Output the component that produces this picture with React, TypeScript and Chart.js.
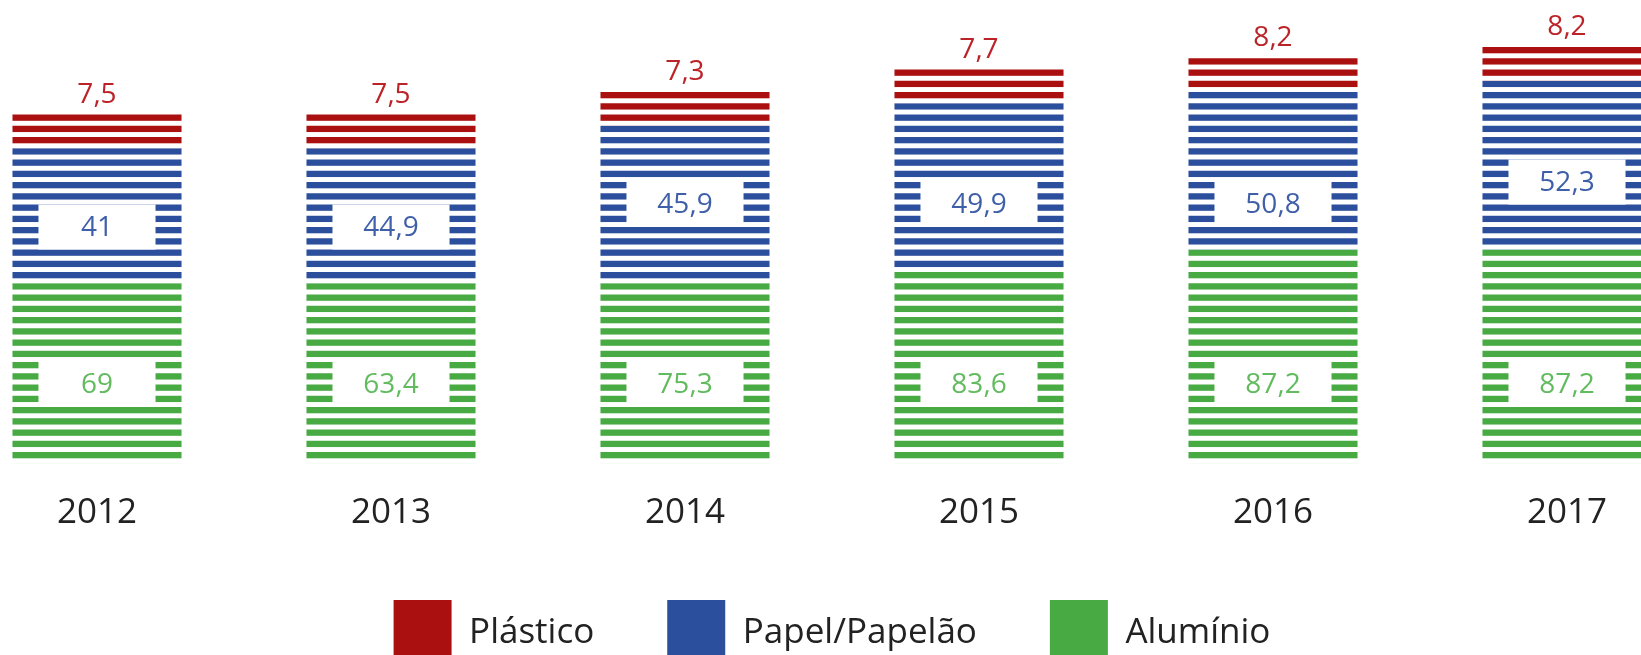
import React, { useEffect, useRef } from "react";
import { Chart, registerables } from "chart.js";

Chart.register(...registerables);

// Categories
const years = ["2012", "2013", "2014", "2015", "2016", "2017"];

// Printed values (labels)
const aluminioValues = [69, 63.4, 75.3, 83.6, 87.2, 87.2];
const papelValues = [41, 44.9, 45.9, 49.9, 50.8, 52.3];
const plasticoValues = [7.5, 7.5, 7.3, 7.7, 8.2, 8.2];

// Drawn bar heights, in stripes
const aluminioStripes = [16, 16, 16, 17, 19, 19];
const papelStripes = [12, 12, 14, 15, 14, 15];
const plasticoStripes = [3, 3, 3, 3, 3, 3];

// Stripes below each label box (picture reading)
const aluminioLabelRow = [5, 5, 5, 5, 5, 5];
const papelLabelRow = [3, 3, 5, 4, 2, 4];

const seriesNames = ["Alumínio", "Papel/Papelão", "Plástico"];
const seriesColors = ["#48aa43", "#2b4f9c", "#ab1010"];
const labelColors = ["#62bb5f", "#3f5fa9", "#bc2328"];

const FONT = "'Open Sans', sans-serif";
const STRIPE_FRACTION = 0.56;
const BOX_INSET = 26;
const BOX_ROWS = 4;
const X_AXIS_HEIGHT = 63.75;

const fmt = (v: number) => String(v).replace(".", ",");

const stripePlugin = {
  id: "stripes",
  afterDatasetsDraw(chart: any) {
    const ctx = chart.ctx;
    const ys = chart.scales.y;
    const unit = ys.getPixelForValue(0) - ys.getPixelForValue(1);
    ctx.save();
    // stripes: white gaps in each cell
    ctx.fillStyle = "#ffffff";
    chart.data.datasets.forEach((_ds: any, di: number) => {
      const meta = chart.getDatasetMeta(di);
      meta.data.forEach((bar: any) => {
        const { x, y, base, width } = bar.getProps(["x", "y", "base", "width"], true);
        const left = x - width / 2;
        const n = Math.round((base - y) / unit);
        for (let k = 0; k < n; k++) {
          const cellTop = y + k * unit;
          const gTop = cellTop + STRIPE_FRACTION * unit;
          ctx.fillRect(left - 1, gTop, width + 2, cellTop + unit - gTop);
        }
      });
    });
    // label boxes and labels
    const rows = [aluminioLabelRow, papelLabelRow];
    const vals = [aluminioValues, papelValues, plasticoValues];
    ctx.font = `28px ${FONT}`;
    ctx.textAlign = "center";
    chart.data.datasets.forEach((_ds: any, di: number) => {
      const meta = chart.getDatasetMeta(di);
      meta.data.forEach((bar: any, i: number) => {
        const { x, y, base, width } = bar.getProps(["x", "y", "base", "width"], true);
        const left = x - width / 2;
        const text = fmt(vals[di][i]);
        if (di < 2) {
          const bBottom = base - rows[di][i] * unit;
          const bTop = bBottom - BOX_ROWS * unit;
          ctx.fillStyle = "#ffffff";
          ctx.fillRect(left + BOX_INSET, bTop, width - 2 * BOX_INSET, bBottom - bTop);
          ctx.fillStyle = labelColors[di];
          ctx.textBaseline = "middle";
          ctx.fillText(text, x, (bTop + bBottom) / 2 + 1);
        } else {
          ctx.fillStyle = labelColors[di];
          ctx.textBaseline = "alphabetic";
          ctx.fillText(text, x, y - 12);
        }
      });
    });
    ctx.restore();
  },
};

export default function App() {
  const ref = useRef<HTMLCanvasElement | null>(null);

  useEffect(() => {
    if (!ref.current) return;
    const stripeData = [aluminioStripes, papelStripes, plasticoStripes];
    const chart = new Chart(ref.current, {
      type: "bar",
      data: {
        labels: years,
        datasets: seriesNames.map((name, i) => ({
          label: name,
          data: stripeData[i],
          backgroundColor: seriesColors[i],
          borderWidth: 0,
          barPercentage: 0.575,
          categoryPercentage: 1,
        })),
      },
      options: {
        responsive: false,
        animation: false,
        layout: { padding: { top: 2, left: 0, right: 0, bottom: 0 } },
        scales: {
          x: {
            stacked: true,
            grid: { display: false, drawTicks: false },
            border: { display: false },
            ticks: {
              color: "#222222",
              font: { family: FONT, size: 35, lineHeight: 0.8 },
              padding: 35.5,
            },
            afterFit: (scale: any) => {
              scale.height = X_AXIS_HEIGHT;
            },
          },
          y: {
            stacked: true,
            display: false,
            min: 0,
            max: 41,
          },
        },
        plugins: {
          legend: {
            position: "bottom",
            reverse: true,
            labels: {
              boxWidth: 58,
              boxHeight: 66,
              padding: 73,
              color: "#222222",
              font: { family: FONT, size: 35 },
            },
          },
          tooltip: { enabled: false },
        },
      },
      plugins: [stripePlugin],
    });
    return () => chart.destroy();
  }, []);

  return (
    <div
      style={{
        position: "fixed",
        left: 0,
        top: 0,
        width: 1641,
        height: 655,
        overflow: "hidden",
        background: "#ffffff",
      }}
    >
      <div style={{ position: "absolute", left: -50, top: 0, width: 1764, height: 676 }}>
        <canvas ref={ref} width={1764} height={676} style={{ width: 1764, height: 676 }} />
      </div>
    </div>
  );
}
